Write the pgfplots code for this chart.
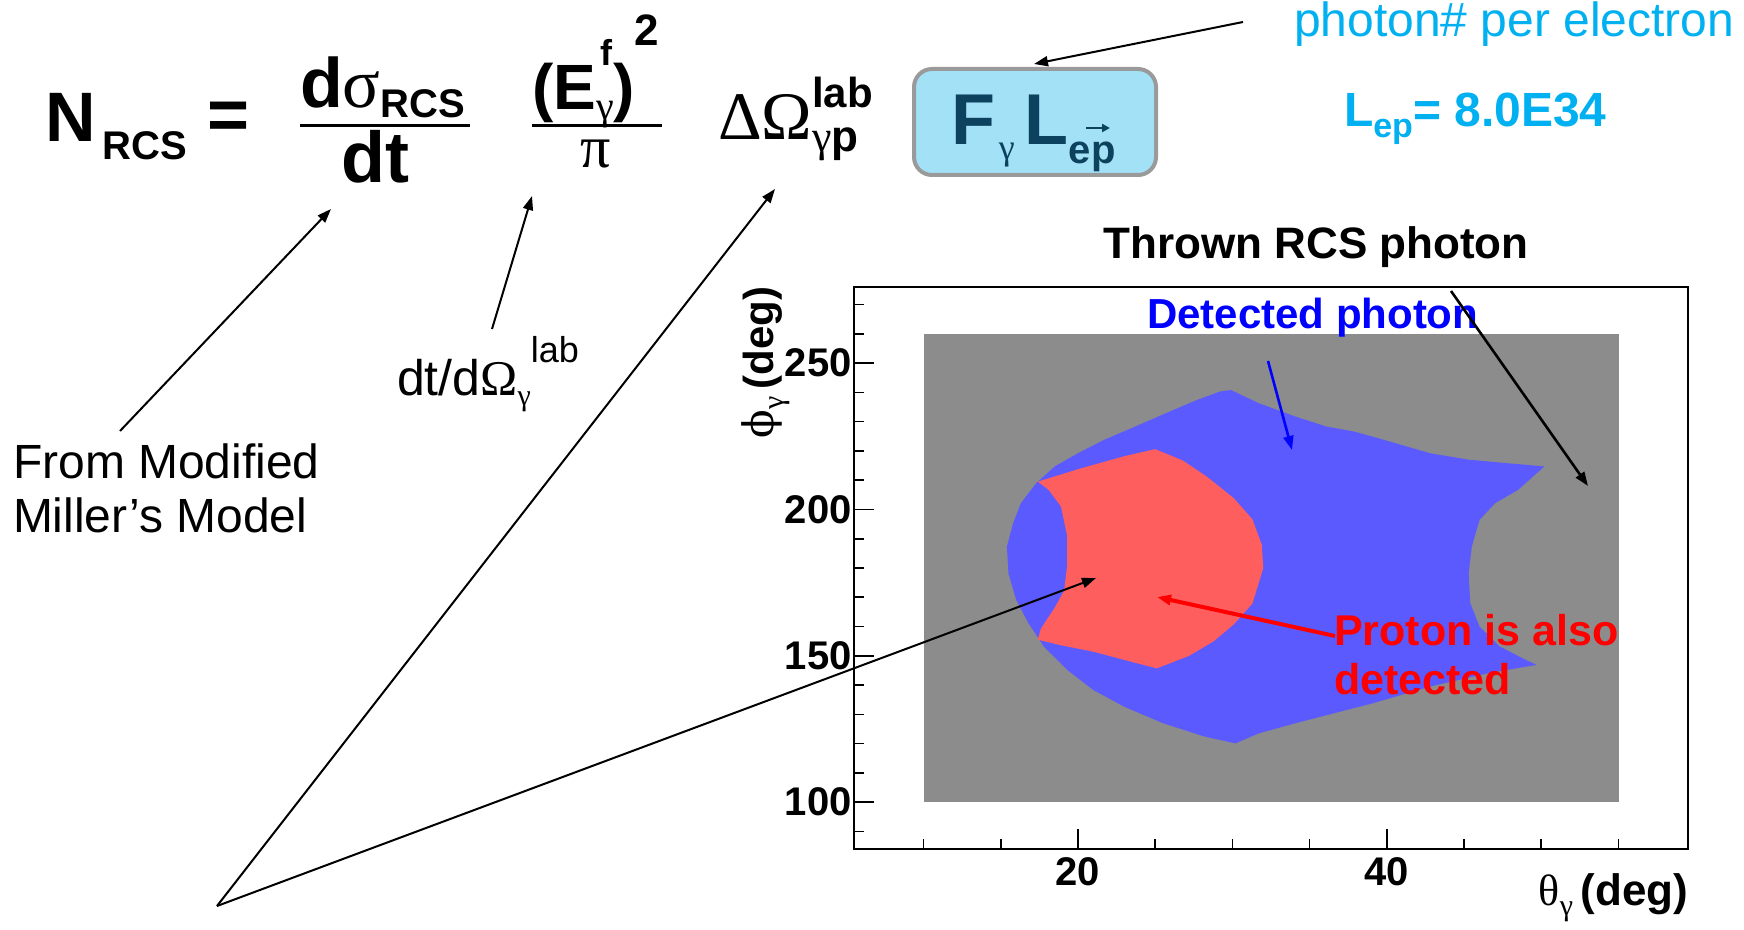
\documentclass[border=0pt]{standalone}
\usepackage{pgfplots}
\pgfplotsset{compat=1.18}
\usepackage{fontspec}
\setmainfont{Liberation Sans}
\newfontfamily\grk{Liberation Serif}
\newfontfamily\dvs{DejaVu Serif}
\usetikzlibrary{arrows.meta}
\definecolor{cyanppt}{HTML}{00B0F0}
\definecolor{boxfill}{HTML}{A3E1F7}
\definecolor{boxline}{HTML}{9A9A9A}
\definecolor{boxtext}{HTML}{0D425E}
\definecolor{thrown}{HTML}{8C8C8C}
\definecolor{detblue}{HTML}{5A5AFF}
\definecolor{detred}{HTML}{FF5E5E}
\newcommand{\fs}[1]{\fontsize{#1}{#1}\selectfont}
\begin{document}
\begin{tikzpicture}
\useasboundingbox (0,0) rectangle (872pt,-465pt);
\begin{axis}[
  at={(427pt,-424.5pt)}, anchor=south west,
  scale only axis, width=417pt, height=281pt,
  xmin=5.5, xmax=59.5, ymin=84, ymax=276,
  xtick={20,40}, minor xtick={10,15,25,30,35,45,50,55},
  ytick={100,150,200,250},
  minor ytick={90,110,120,130,140,160,170,180,190,210,220,230,240,260,270},
  xtick pos=bottom, ytick pos=left, tick align=inside,
  major tick length=10pt, minor tick length=5pt,
  axis line style={line width=0.8pt},
  tick style={black, line width=0.8pt},
  tick label style={font=\fs{20}\bfseries, inner sep=1pt},
  xticklabel style={yshift=-3pt},
  /pgf/number format/assume math mode=true,
  no markers, axis on top,
]
% thrown RCS photons
\addplot[fill=thrown, draw=none] coordinates {(10,100) (55,100) (55,260) (10,260)} -- cycle;
% detected photon
\addplot[fill=detblue, draw=none] coordinates {
(29.9,240.8) (31.7,236.3) (34.1,231.7) (36.1,228.3) (37.9,226.6) (39.8,223.8)
(42.8,219.2) (45.3,217.0) (47.8,215.8) (50.2,214.7) (48.5,206.7) (47.0,202.1)
(46.0,196.4) (45.5,187.3) (45.3,178.2) (45.4,168.0) (46.0,160.0) (47.3,153.2)
(49.0,148.6) (49.7,146.9) (46.5,144.0) (42.8,139.5) (39.1,133.8) (36.6,130.4)
(34.1,127.0) (31.7,123.5) (30.2,120.1) (28.2,122.4) (25.5,127.0) (23.0,132.6)
(21.0,138.3) (19.3,145.2) (17.8,153.1) (16.8,161.1) (16.0,169.1) (15.5,178.2)
(15.4,187.3) (15.8,195.3) (16.3,202.1) (17.3,209.0) (18.5,214.7) (20.0,219.2)
(21.7,223.8) (23.7,228.3) (25.7,232.9) (27.7,237.4) (29.2,240.3)} -- cycle;
% proton also detected
\addplot[fill=detred, draw=none] coordinates {
(17.4,209.5) (20.1,213.9) (23.0,218.2) (25.0,220.6) (26.8,216.7) (28.4,211.0)
(30.1,203.8) (31.3,196.6) (31.9,188.0) (32.0,180.0) (31.3,167.9) (30.1,160.8)
(28.8,155.0) (27.2,150.0) (25.1,145.7) (23.0,148.6) (21.0,151.4) (18.9,153.6)
(17.4,155.5) (17.6,159.3) (18.5,166.5) (19.1,172.2) (19.3,180.9) (19.3,190.9)
(18.9,201.0) (18.1,206.7)} -- cycle;
\end{axis}
\begin{scope}[x=0.5pt,y=-0.5pt, every node/.style={inner sep=0pt, outer sep=0pt}]
% ---- equation
\node[anchor=base west] at (46,142) {\fs{35}\bfseries N\hspace{3pt}\raisebox{-9pt}{\fs{20}RCS}};
\node[anchor=base west] at (207,140) {\fs{36}\bfseries =};
\node[anchor=base west] at (300,108) {\fs{35}\bfseries d{\grk\mdseries σ}\raisebox{-5pt}{\fs{20}RCS}};
\draw[line width=1.5pt] (300,126) -- (470,126);
\node[anchor=base] at (375,183) {\fs{36}\bfseries dt};
\node[anchor=base west] at (532,110) {\fs{32}\bfseries (E\rlap{\hspace{2pt}\raisebox{22pt}{\fs{18}f}}\raisebox{-5pt}{\fs{20}\grk\mdseries γ})\raisebox{32pt}{\fs{22}2}};
\draw[line width=1.5pt] (532,126) -- (662,126);
\node[anchor=base] at (596,168) {\fs{30}\grk π};
\node[anchor=base west] at (718,140) {\fs{34}{\grk ΔΩ}\rlap{\raisebox{16pt}{\fs{21}\bfseries lab}}\raisebox{-6pt}{\fs{22}\bfseries{\grk\mdseries γ}p}};
% ---- box
\draw[line width=2pt, draw=boxline, fill=boxfill, rounded corners=9pt] (914,69) rectangle (1156,175);
\node[anchor=base west, text=boxtext] at (951,145) {\fs{36}\bfseries F\hspace{2pt}\raisebox{-7.5pt}{\fs{18}\grk\mdseries γ}\hspace{5pt}L\raisebox{-9.5pt}{\fs{20}ep}};
\draw[boxtext, line width=1.2pt, -{Triangle[length=4pt,width=4pt]}] (1086,128) -- (1110,128);
% ---- right texts
\node[anchor=base west, text=cyanppt] at (1294,37) {\fs{24}photon\# per electron};
\node[anchor=base west, text=cyanppt] at (1344,127) {\fs{24}\bfseries L\raisebox{-5.5pt}{\fs{17}ep}= 8.0E34};
\node[anchor=base] at (1316,259) {\fs{22}\bfseries Thrown RCS photon};
% ---- left texts
\node[anchor=base west] at (397,395) {\fs{25}dt/d{\grk Ω}\raisebox{-5pt}{\fs{15}\grk γ}\raisebox{16.5pt}{\fs{18}lab}};
\node[anchor=base west] at (13,478) {\fs{24}From Modified};
\node[anchor=base west] at (13,532) {\fs{24}Miller’s Model};
% ---- plot texts
\node[anchor=base west, text=blue] at (1147,329) {\fs{21}\bfseries Detected photon};
\node[anchor=base west, text=red] at (1334,645) {\fs{21.5}\bfseries Proton is also};
\node[anchor=base west, text=red] at (1334,694) {\fs{21.5}\bfseries detected};
% ---- axis titles
\node[anchor=base east, rotate=90] at (773,287) {\fs{21}{\dvs ϕ}\raisebox{-5pt}{\fs{15}\grk γ}\,\bfseries (deg)};
\node[anchor=base east] at (1688,905) {\fs{22}{\grk θ}\raisebox{-5pt}{\fs{15}\grk γ}\,\bfseries (deg)};
% ---- arrows
\begin{scope}[line width=1pt, -{Triangle[length=7pt,width=5pt]}]
\draw (1243,22) -- (1034,64);
\draw (120,431) -- (331,209);
\draw (492,329) -- (532,196);
\draw (217,906) -- (775,189);
\draw (217,906) -- (1096,578);
\draw[blue, line width=1.3pt] (1268,361) -- (1292,450);
\draw[red, line width=2pt] (1335,636) -- (1157,597);
\draw[line width=1.3pt] (1451,291) -- (1588,486);
\end{scope}
\end{scope}
\end{tikzpicture}
\end{document}
